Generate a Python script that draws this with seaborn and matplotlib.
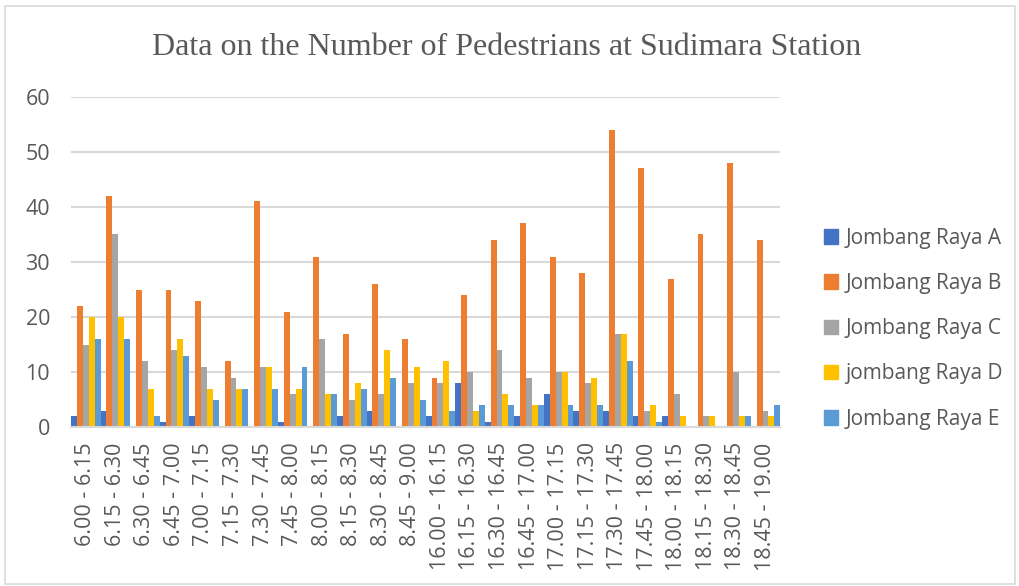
import matplotlib
matplotlib.use("Agg")
import matplotlib.pyplot as plt
import matplotlib.patches as mpatches
import pandas as pd
import seaborn as sns

time_slots = [
    "6.00 - 6.15", "6.15 - 6.30", "6.30 - 6.45", "6.45 - 7.00",
    "7.00 - 7.15", "7.15 - 7.30", "7.30 - 7.45", "7.45 - 8.00",
    "8.00 - 8.15", "8.15 - 8.30", "8.30 - 8.45", "8.45 - 9.00",
    "16.00 - 16.15", "16.15 - 16.30", "16.30 - 16.45", "16.45 - 17.00",
    "17.00 - 17.15", "17.15 - 17.30", "17.30 - 17.45", "17.45 - 18.00",
    "18.00 - 18.15", "18.15 - 18.30", "18.30 - 18.45", "18.45 - 19.00",
]

raya_a = [2, 3, 0, 1, 2, 0, 0, 1, 0, 2, 3, 0, 2, 8, 1, 2, 6, 3, 3, 2, 2, 0, 0, 0]
raya_b = [22, 42, 25, 25, 23, 12, 41, 21, 31, 17, 26, 16, 9, 24, 34, 37, 31, 28, 54, 47, 27, 35, 48, 34]
raya_c = [15, 35, 12, 14, 11, 9, 11, 6, 16, 5, 6, 8, 8, 10, 14, 9, 10, 8, 17, 3, 6, 2, 10, 3]
raya_d = [20, 20, 7, 16, 7, 7, 11, 7, 6, 8, 14, 11, 12, 3, 6, 4, 10, 9, 17, 4, 2, 2, 2, 2]
raya_e = [16, 16, 2, 13, 5, 7, 7, 11, 6, 7, 9, 5, 3, 4, 4, 4, 4, 4, 12, 1, 0, 0, 2, 4]

series_names = ["Jombang Raya A", "Jombang Raya B", "Jombang Raya C",
                "jombang Raya D", "Jombang Raya E"]
colors = ["#4472C4", "#ED7D31", "#A5A5A5", "#FFC000", "#5B9BD5"]

# long format for seaborn
frames = []
for name, vals in zip(series_names, [raya_a, raya_b, raya_c, raya_d, raya_e]):
    frames.append(pd.DataFrame({"time": time_slots, "station": name, "count": vals}))
df = pd.concat(frames, ignore_index=True)

sns.set_style("white")
plt.rcParams["font.family"] = ["Open Sans", "DejaVu Sans"]
text_color = "#595959"
grid_color = "#D9D9D9"

fig = plt.figure(figsize=(10.2, 5.86), dpi=100)
ax = fig.add_axes([0.0696, 0.2713, 0.6954, 0.5632])

sns.barplot(data=df, x="time", y="count", hue="station", order=time_slots,
            hue_order=series_names, palette=colors, width=1.0, gap=0,
            saturation=1, linewidth=0, legend=False, ax=ax)

ax.set_ylim(0, 60)
ax.set_yticks(range(0, 61, 10))
ax.set_xlim(-0.5, len(time_slots) - 0.5)
ax.yaxis.grid(True, color=grid_color, linewidth=1.5)
ax.set_axisbelow(True)
ax.set_xlabel("")
ax.set_ylabel("")
for side in ["top", "right", "left"]:
    ax.spines[side].set_visible(False)
ax.spines["bottom"].set_color(grid_color)
ax.spines["bottom"].set_linewidth(1.5)
ax.tick_params(axis="both", length=0, colors=text_color, labelsize=15.5)
ax.tick_params(axis="y", pad=15)
ax.tick_params(axis="x", pad=11)
plt.setp(ax.get_xticklabels(), rotation=90)

fig.text(0.497, 0.919, "Data on the Number of Pedestrians at Sudimara Station",
         ha="center", va="center", fontsize=23, color=text_color,
         family=["Liberation Serif", "DejaVu Serif"])

handles = [mpatches.Patch(color=c, label=n) for n, c in zip(series_names, colors)]
fig.legend(handles=handles, loc="center left", bbox_to_anchor=(0.789, 0.439),
           frameon=False, fontsize=15, handlelength=0.7, handleheight=0.7,
           handletextpad=0.35, labelspacing=1.16, labelcolor=text_color)

# light chart border
fig.patches.append(mpatches.Rectangle((0.005, 0.004), 0.99, 0.985,
                                      transform=fig.transFigure, fill=False,
                                      edgecolor=grid_color, linewidth=1.2))

fig.savefig("out.png", dpi=100, facecolor="white")
